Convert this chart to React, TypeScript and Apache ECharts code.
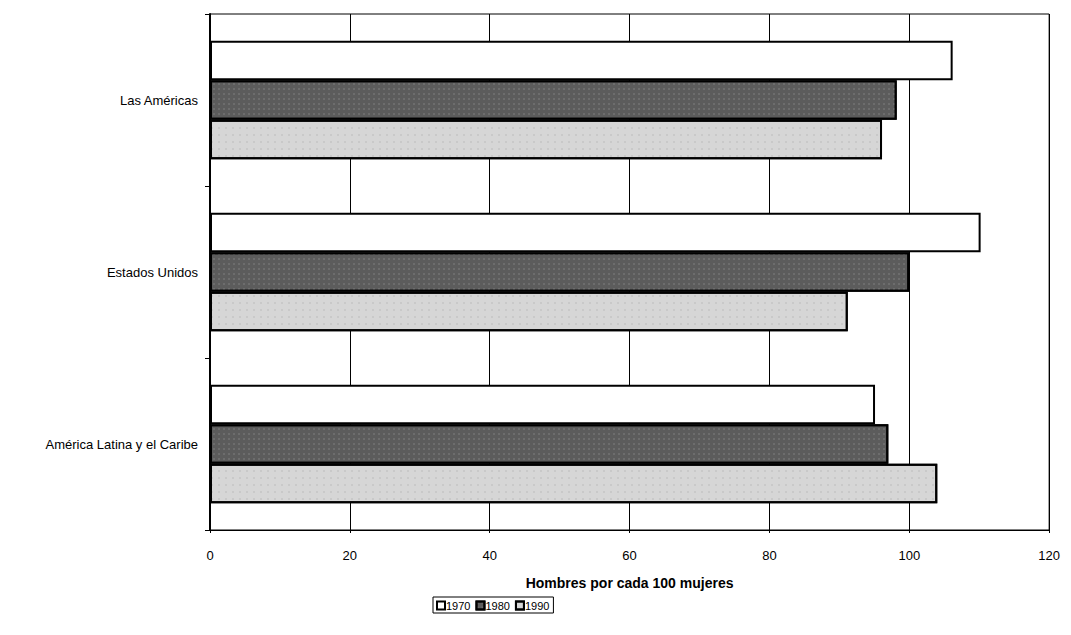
import React, { useEffect, useRef } from "react";
import * as echarts from "echarts";

const categories = ["Las Américas", "Estados Unidos", "América Latina y el Caribe"];
const seriesNames = ["1970", "1980", "1990"];
const values1970 = [106.2, 110.2, 95.1];
const values1980 = [98.2, 100, 97.0];
const values1990 = [96.1, 91.2, 104];
const xTicks = [0, 20, 40, 60, 80, 100, 120];
const xTitle = "Hombres por cada 100 mujeres";

const FONT = "'Liberation Sans', Arial, sans-serif";

export default function App() {
  const ref = useRef<HTMLDivElement>(null);
  useEffect(() => {
    if (!ref.current) return;
    const chart = echarts.init(ref.current, undefined, { renderer: "svg" });
    const fills = ["#ffffff", "#5c5c5c", "#d6d6d6"];
    const decals = [
      null,
      { symbol: "rect", symbolSize: 0.6, color: "rgba(255,255,255,0.35)", dashArrayX: [2, 3], dashArrayY: [2, 3], rotation: 0 },
      { symbol: "rect", symbolSize: 0.6, color: "rgba(90,90,90,0.35)", dashArrayX: [2, 5], dashArrayY: [2, 5], rotation: 0 },
    ];
    const data = [values1970, values1980, values1990];
    chart.setOption({
      animation: false,
      backgroundColor: "#ffffff",
      textStyle: { fontFamily: FONT },
      grid: {
        left: 202,
        right: 8,
        top: 6,
        bottom: 97,
        show: true,
        borderColor: "#000",
        borderWidth: 1,
      },
      legend: {
        left: 425,
        top: 589,
        orient: "horizontal",
        data: seriesNames,
        itemWidth: 8,
        itemHeight: 8,
        itemGap: 5,
        padding: [3, 4, 2, 3],
        borderColor: "#000",
        borderWidth: 1,
        borderRadius: 0,
        icon: "rect",
        textStyle: { fontFamily: FONT, fontSize: 11, color: "#000", padding: [5, 0, 0, -4] },
      },
      xAxis: {
        type: "value",
        min: xTicks[0],
        max: xTicks[xTicks.length - 1],
        interval: 20,
        name: xTitle,
        nameLocation: "middle",
        nameGap: 46,
        nameTextStyle: { fontFamily: FONT, fontSize: 14, fontWeight: "bold", color: "#000" },
        axisLine: { show: true, lineStyle: { color: "#000", width: 1 } },
        axisTick: { show: true, length: 3, lineStyle: { color: "#000" } },
        axisLabel: { fontFamily: FONT, fontSize: 13, color: "#000", margin: 19 },
        splitLine: { show: true, lineStyle: { color: "#000", width: 1 } },
      },
      yAxis: {
        type: "category",
        data: categories,
        inverse: true,
        axisLine: { show: true, lineStyle: { color: "#000", width: 2 } },
        axisTick: { show: true, length: 5, lineStyle: { color: "#000" } },
        axisLabel: { fontFamily: FONT, fontSize: 13, color: "#000", margin: 12 },
        splitLine: { show: false },
      },
      series: seriesNames.map((name, i) => ({
        name,
        type: "bar",
        data: data[i],
        barGap: "0%",
        barCategoryGap: "31%",
        itemStyle: Object.assign(
          { color: fills[i], borderColor: "#000", borderWidth: 2 },
          decals[i] ? { decal: decals[i] } : {}
        ),
      })),
    });
    return () => chart.dispose();
  }, []);
  return <div ref={ref} style={{ width: 1055, height: 619 }} />;
}
